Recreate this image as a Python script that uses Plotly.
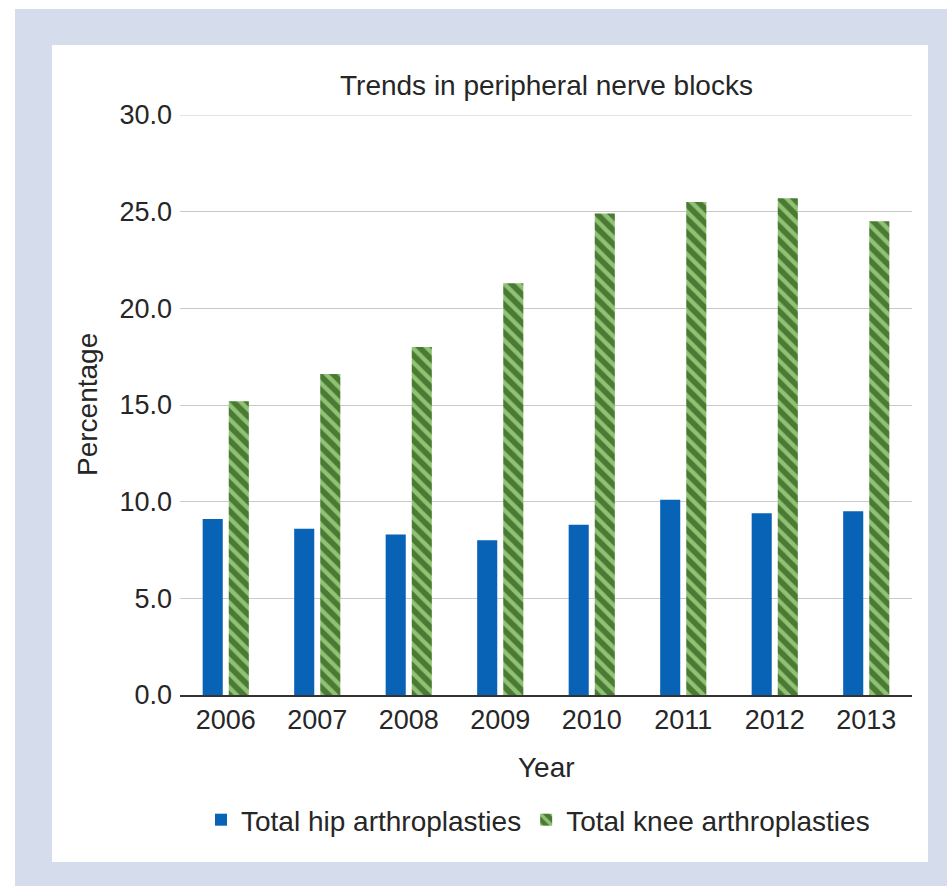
import plotly.graph_objects as go

# Data: percentage of arthroplasties receiving peripheral nerve blocks
years = ["2006", "2007", "2008", "2009", "2010", "2011", "2012", "2013"]
hip_pct = [9.1, 8.6, 8.3, 8.0, 8.8, 10.1, 9.4, 9.5]
knee_pct = [15.2, 16.6, 18.0, 21.3, 24.9, 25.5, 25.7, 24.5]
y_ticks = [0, 5, 10, 15, 20, 25, 30]

W, H = 947, 886
L, R, T, B = 180, 35, 115, 191
PW, PH = W - L - R, H - T - B


def px(x):
    return (x - L) / PW


def py(y):
    return (H - B - y) / PH


FONT = "Liberation Sans, Arial, sans-serif"
BLUE = "#0862b6"
DARK_GREEN = "#4a7a33"
LIGHT_GREEN = "#90c273"
TEXT = "#262626"
GRID = "#c9c9c9"

fig = go.Figure()
fig.add_trace(go.Bar(
    x=years, y=hip_pct, name="Total hip arthroplasties",
    marker=dict(color=BLUE, line=dict(width=0)),
))
fig.add_trace(go.Bar(
    x=years, y=knee_pct, name="Total knee arthroplasties",
    marker=dict(
        color=DARK_GREEN, line=dict(width=0),
        pattern=dict(shape="\\", fgcolor=LIGHT_GREEN, bgcolor=DARK_GREEN,
                     size=10, solidity=0.42, fillmode="replace"),
    ),
))

# framed background panel, plus the gridline at the top of the value range
shapes = [
    dict(type="rect", xref="paper", yref="paper", layer="below",
         x0=px(15), x1=px(947), y0=py(886), y1=py(9),
         fillcolor="#d5ddec", line=dict(width=0)),
    dict(type="rect", xref="paper", yref="paper", layer="below",
         x0=px(52), x1=px(928), y0=py(862), y1=py(45),
         fillcolor="white", line=dict(width=0)),
    dict(type="line", xref="paper", yref="y", layer="below",
         x0=0, x1=1, y0=y_ticks[-1], y1=y_ticks[-1],
         line=dict(color=GRID, width=1)),
]

annotations = [
    dict(text="Trends in peripheral nerve blocks", xref="paper", yref="paper",
         x=0.5, y=py(85), xanchor="center", yanchor="middle", showarrow=False,
         font=dict(size=28, color=TEXT, family=FONT)),
    dict(text="Percentage", xref="paper", yref="paper", textangle=-90,
         x=px(87), y=py(405), xanchor="center", yanchor="middle", showarrow=False,
         font=dict(size=28, color=TEXT, family=FONT)),
    dict(text="Year", xref="paper", yref="paper",
         x=0.5, y=py(767), xanchor="center", yanchor="middle", showarrow=False,
         font=dict(size=28, color=TEXT, family=FONT)),
]

fig.update_layout(
    width=W, height=H,
    margin=dict(l=L, r=R, t=T, b=B, autoexpand=False),
    paper_bgcolor="white", plot_bgcolor="white",
    font=dict(family=FONT, size=27, color=TEXT),
    barmode="group", bargap=0.43, bargroupgap=0.23,
    shapes=shapes, annotations=annotations,
    showlegend=True,
    legend=dict(orientation="h", x=px(538), xanchor="center", y=py(820),
                yanchor="middle", font=dict(size=28, color=TEXT),
                bgcolor="rgba(0,0,0,0)", itemwidth=30, tracegroupgap=0),
    xaxis=dict(type="category", showline=True, linecolor="#333333", linewidth=1.5,
               showgrid=False, ticks="", tickfont=dict(size=27, color=TEXT)),
    yaxis=dict(range=[0, 30], tickvals=y_ticks, tickformat=".1f",
               showgrid=True, gridcolor=GRID, gridwidth=1, zeroline=False,
               showline=False, ticks="", ticklabelstandoff=7,
               tickfont=dict(size=27, color=TEXT)),
)

fig.write_html("out.html")
